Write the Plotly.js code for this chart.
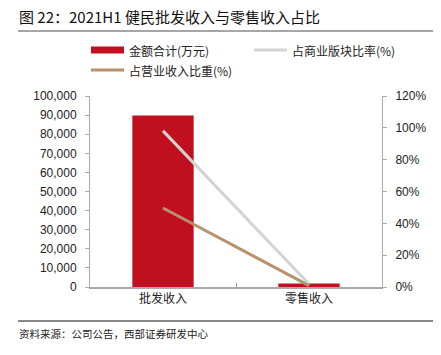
<!DOCTYPE html>
<html><head><meta charset="utf-8">
<script src="https://cdn.plot.ly/plotly-3.0.1.min.js"></script>
<style>html,body{margin:0;padding:0;background:#fff;}#chart{width:441px;height:355px;}</style>
</head><body><div id="chart"></div>
<script>
const categories = ['批发收入', '零售收入'];
const amount = [89800, 1800];           // 金额合计(万元)
const shareCommercial = [98.1, 1.9];    // 占商业版块比率(%)
const shareRevenue = [49.6, 0.9];       // 占营业收入比重(%)
const seriesNames = ['金额合计(万元)', '占商业版块比率(%)', '占营业收入比重(%)'];
const leftTicks = [0,10000,20000,30000,40000,50000,60000,70000,80000,90000,100000];
const rightTicks = [0,20,40,60,80,100,120];

const cjk = '"Noto Sans CJK SC", sans-serif';
const num = '"Liberation Sans", Arial, sans-serif';
const colors = ['#C00F1F', '#D3D3D3', '#B8916A'];

const traces = [
  {type:'bar', x:categories, y:amount, name:seriesNames[0], marker:{color:colors[0]}, width:0.42, yaxis:'y'},
  {type:'scatter', mode:'lines', x:categories, y:shareCommercial, name:seriesNames[1], line:{color:colors[1], width:3}, yaxis:'y2'},
  {type:'scatter', mode:'lines', x:categories, y:shareRevenue, name:seriesNames[2], line:{color:colors[2], width:3}, yaxis:'y2'}
];

// pixel -> paper helpers (plot area: x 90..382, y 96..287)
const L=90, W=292, B=287, H=191;
const px = v => (v-L)/W;
const py = v => (B-v)/H;

const legendPos = [[91,50],[254,50],[91,70]];
const shapes = [
  {type:'line', xref:'paper', yref:'paper', x0:px(18), x1:px(433), y0:py(31), y1:py(31), line:{color:'#888', width:1.5}},
  {type:'line', xref:'paper', yref:'paper', x0:px(18), x1:px(433), y0:py(321), y1:py(321), line:{color:'#888', width:2}},
  {type:'rect', xref:'paper', yref:'paper', x0:px(91), x1:px(124), y0:py(53.5), y1:py(46.5), fillcolor:colors[0], line:{width:0}},
  {type:'line', xref:'paper', yref:'paper', x0:px(254), x1:px(287), y0:py(50), y1:py(50), line:{color:colors[1], width:3}},
  {type:'line', xref:'paper', yref:'paper', x0:px(91), x1:px(124), y0:py(70), y1:py(70), line:{color:colors[2], width:3}}
];
const annotations = [
  {xref:'paper', yref:'paper', x:px(17), y:py(16), xanchor:'left', yanchor:'middle', showarrow:false,
   text:'图 22：2021H1 健民批发收入与零售收入占比', font:{family:cjk, size:15, color:'#111'}},
  {xref:'paper', yref:'paper', x:px(17), y:py(333), xanchor:'left', yanchor:'middle', showarrow:false,
   text:'资料来源：公司公告，西部证券研发中心', font:{family:cjk, size:10.5, color:'#222'}}
];
seriesNames.forEach((n,i)=>{
  annotations.push({xref:'paper', yref:'paper', x:px(legendPos[i][0]+36), y:py(legendPos[i][1]), xanchor:'left', yanchor:'middle', showarrow:false,
    text:n, font:{family:cjk, size:12, color:'#222'}});
});

const layout = {
  width:441, height:355,
  margin:{l:L, r:441-L-W, t:96, b:355-B},
  paper_bgcolor:'#fff', plot_bgcolor:'#fff',
  showlegend:false,
  bargap:0.5,
  xaxis:{type:'category', showline:true, linecolor:'#AAAAAA', linewidth:1.5, ticks:'inside', tickson:'boundaries', ticklen:4, tickcolor:'#999',
    tickfont:{family:cjk, size:12, color:'#222'}, showgrid:false, zeroline:false},
  yaxis:{range:[0,100000], tickvals:leftTicks, ticktext:leftTicks.map(v=>v.toLocaleString('en-US')), showline:true, linecolor:'#AAAAAA', linewidth:1,
    ticks:'outside', ticklen:4, tickcolor:'#AAAAAA', tickfont:{family:num, size:12, color:'#222'}, showgrid:false, zeroline:false, ticklabelstandoff:6},
  yaxis2:{overlaying:'y', side:'right', range:[0,120], tickvals:rightTicks, ticktext:rightTicks.map(v=>v+'%'), showline:true, linecolor:'#AAAAAA', linewidth:1,
    ticks:'outside', ticklen:4, tickcolor:'#AAAAAA', tickfont:{family:num, size:12, color:'#222'}, showgrid:false, zeroline:false, ticklabelstandoff:6},
  shapes:shapes,
  annotations:annotations
};
Plotly.newPlot('chart', traces, layout, {staticPlot:true, displayModeBar:false});
</script></body></html>
